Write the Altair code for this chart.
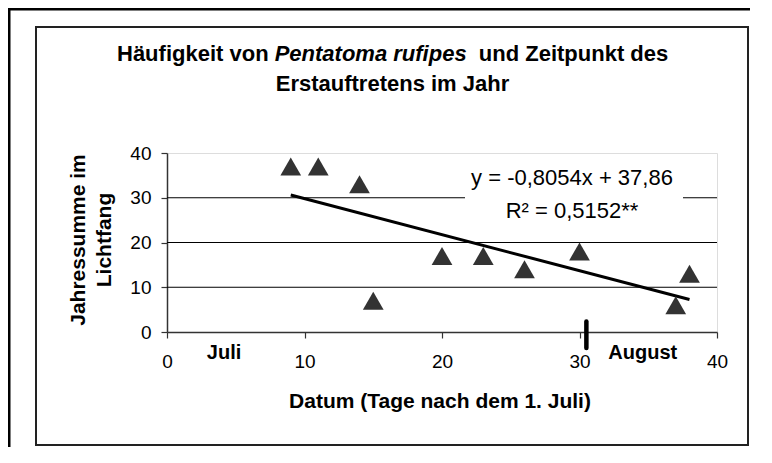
import altair as alt
import pandas as pd

# ---- data ----
day = [9, 11, 14, 15, 20, 23, 26, 30, 37, 38]
count = [37, 37, 33, 7, 17, 17, 14, 18, 6, 13]
x_ticks = [0, 10, 20, 30, 40]
y_ticks = [0, 10, 20, 30, 40]
grid_y = [10, 20, 30]
month_names = ["Juli", "August"]
month_x = [4.15, 34.6]
month_break = [30.5]
trend_extent = [9, 38]
title_parts = ["Häufigkeit von", "Pentatoma rufipes", "und Zeitpunkt des"]
title_line2 = "Erstauftretens im Jahr"
eq_line1 = "y = -0,8054x + 37,86"
eq_line2 = "R² = 0,5152**"
x_title = "Datum (Tage nach dem 1. Juli)"
y_title = ["Jahressumme im", "Lichtfang"]

W, H = 550, 179
FONT = "Liberation Sans"

pts = pd.DataFrame({"day": day, "count": count})
one = pd.DataFrame({"k": [0]})

xs = alt.Scale(domain=[0, 40], nice=False, zero=False)
ys = alt.Scale(domain=[0, 40], nice=False, zero=False)

x_axis = alt.Axis(values=x_ticks, grid=False, tickSize=6, labelPadding=14.5,
                  labelFontSize=19, labelFlush=False, labelOverlap=False,
                  domainColor="#333333", tickColor="#333333", domainWidth=1.5,
                  tickWidth=1.2, labelColor="black", labelFont=FONT, title=None)
y_axis = alt.Axis(values=y_ticks, grid=False, tickSize=6, labelPadding=10,
                  labelFontSize=19, labelFlush=False, labelOverlap=False,
                  domainColor="#333333", tickColor="#333333", domainWidth=1.5,
                  tickWidth=1.2, labelColor="black", labelFont=FONT, title=None)

X = lambda: alt.X("day:Q", scale=xs, axis=x_axis)
Y = lambda: alt.Y("count:Q", scale=ys, axis=y_axis)


def txt(text, x, y, size, weight="bold", style="normal", align="left", angle=0):
    return alt.Chart(one).mark_text(
        text=text, fontSize=size, fontWeight=weight, fontStyle=style,
        align=align, baseline="alphabetic", angle=angle, font=FONT, color="black"
    ).encode(x=alt.value(x), y=alt.value(y))


# outer frame: only top and left edges are inside the picture
outer_top = alt.Chart(one).mark_rule(color="black", strokeWidth=3).encode(
    x=alt.value(-159), x2=alt.value(583), y=alt.value(-144))
outer_left = alt.Chart(one).mark_rule(color="black", strokeWidth=3).encode(
    x=alt.value(-158), y=alt.value(-145), y2=alt.value(294))
inner = alt.Chart(one).mark_rect(fillOpacity=0, stroke="#222222", strokeWidth=2).encode(
    x=alt.value(-131), x2=alt.value(581), y=alt.value(-126), y2=alt.value(292))

grid = alt.Chart(pd.DataFrame({"count": grid_y})).mark_rule(color="black", strokeWidth=1).encode(
    y=Y())

eq_box = alt.Chart(one).mark_rect(fill="white").encode(
    x=alt.value(298), x2=alt.value(516), y=alt.value(5), y2=alt.value(75))

trend = alt.Chart(pts).transform_regression(
    "day", "count", method="linear", extent=trend_extent
).mark_line(color="black", strokeWidth=3).encode(x=X(), y=Y())

points = alt.Chart(pts).mark_point(
    shape="triangle-up", filled=True, size=430, color="#333333", opacity=1
).encode(x=X(), y=Y())

sep = alt.Chart(pd.DataFrame({"day": month_break})).mark_rule(
    color="black", strokeWidth=4.5, strokeCap="round"
).encode(x=X(), y=alt.value(168.5), y2=alt.value(195))

months = alt.Chart(pd.DataFrame({"day": month_x, "m": month_names})).mark_text(
    fontSize=20, fontWeight="bold", baseline="alphabetic", align="center", font=FONT, color="black"
).encode(x=X(), y=alt.value(205.5), text="m:N")

title1a = txt(title_parts[0], -50, -92.5, 22)
title1b = txt(title_parts[1], 107.7, -92.5, 22, style="italic")
title1c = txt(title_parts[2], 311.8, -92.5, 22)
title2 = txt(title_line2, 225.5, -62.3, 22, align="center")

eq1 = txt(eq_line1, 405, 32, 22, weight="normal", align="center")
eq2 = txt(eq_line2, 405, 65, 22, weight="normal", align="center")

xt = txt(x_title, 273, 255.3, 21, align="center")
yt1 = txt(y_title[0], -82, 87, 21, align="center", angle=270)
yt2 = txt(y_title[1], -56, 87, 21, align="center", angle=270)

chart = alt.layer(
    outer_top, outer_left, inner, grid, eq_box, trend, points, sep, months,
    title1a, title1b, title1c, title2, eq1, eq2, xt, yt1, yt2
).properties(
    width=W, height=H,
    padding={"left": 159, "top": 145, "right": 33, "bottom": 115},
    autosize=alt.AutoSizeParams(type="none"),
).configure_view(stroke="#808080", strokeWidth=1).configure(font=FONT)

chart.save("out.html", embed_options={"renderer": "svg", "actions": False})
